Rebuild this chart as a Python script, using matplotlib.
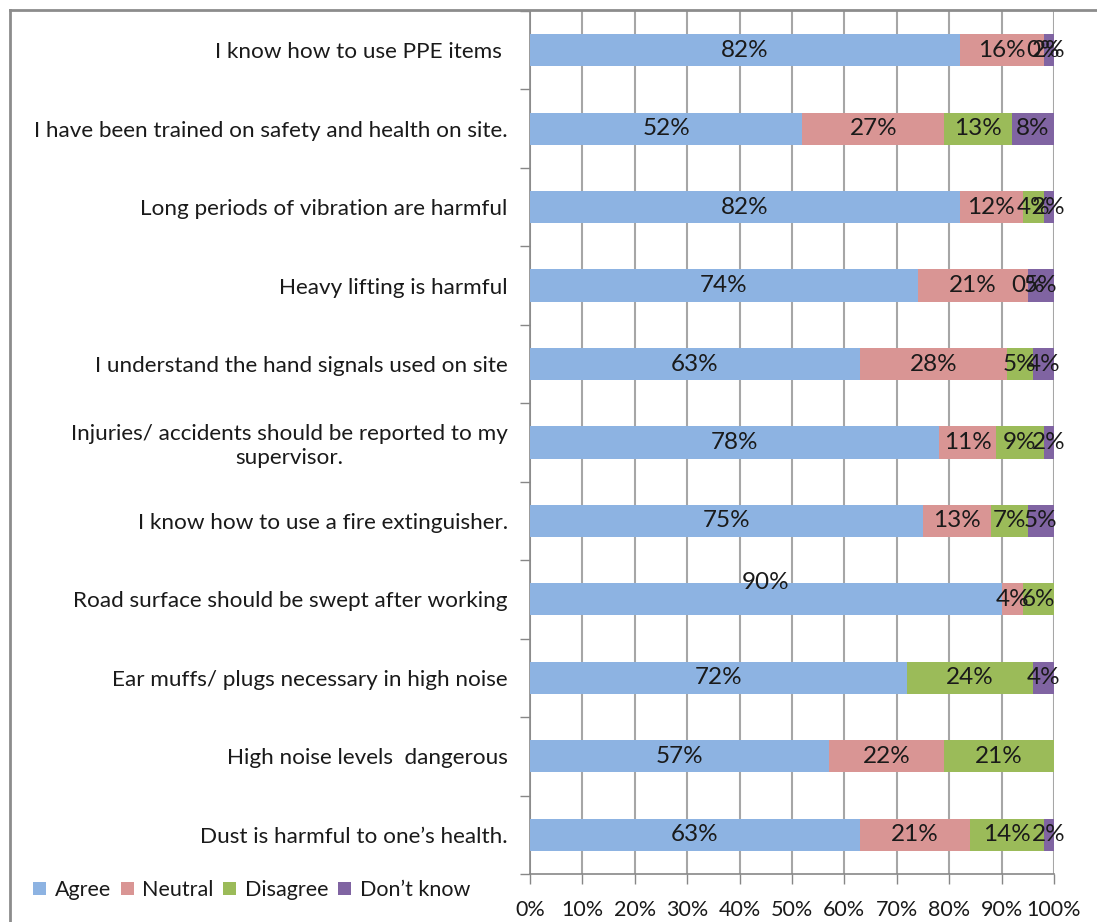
import matplotlib
matplotlib.use("Agg")
import matplotlib.pyplot as plt
import numpy as np
from matplotlib.lines import Line2D
from matplotlib.patches import Patch

plt.rcParams['font.family'] = ['Lato', 'DejaVu Sans']

statements = [
    "I know how to use PPE items ",
    "I have been trained on safety and health on site.",
    "Long periods of vibration are harmful",
    "Heavy lifting is harmful",
    "I understand the hand signals used on site",
    "Injuries/ accidents should be reported to my\nsupervisor.",
    "I know how to use a fire extinguisher.",
    "Road surface should be swept after working",
    "Ear muffs/ plugs necessary in high noise",
    "High noise levels  dangerous",
    "Dust is harmful to one\u2019s health.",
]
# nan = no response in that group (no segment, no label)
agree = [82, 52, 82, 74, 63, 78, 75, 90, 72, 57, 63]
neutral = [16, 27, 12, 21, 28, 11, 13, 4, np.nan, 22, 21]
disagree = [0, 13, 4, 0, 5, 9, 7, 6, 24, 21, 14]
dont_know = [2, 8, 2, 5, 4, 2, 5, np.nan, 4, np.nan, 2]

series = [
    ("Agree", agree, "#8DB3E2"),
    ("Neutral", neutral, "#D99594"),
    ("Disagree", disagree, "#9BBB59"),
    ("Don\u2019t know", dont_know, "#8064A2"),
]

fig = plt.figure(figsize=(10.97, 9.22), dpi=100)
ax = fig.add_axes([0.4831, 0.0521, 0.9608 - 0.4831, 0.9881 - 0.0521])

y = np.arange(len(statements))
left = np.zeros(len(statements))
for name, vals, col in series:
    v = np.array(vals, dtype=float)
    w = np.nan_to_num(v)
    ax.barh(y, w, left=left, height=0.41, color=col, zorder=3, label=name)
    for i in range(len(v)):
        if np.isnan(v[i]):
            continue
        dy = 0
        if name == "Agree" and i == 7:
            dy = -0.22  # label nudged above the bar
        ax.text(left[i] + w[i] / 2, y[i] + dy, f"{v[i]:.0f}%", ha='center', va='center',
                fontsize=17.5, color='#1a1a1a', zorder=5)
    left += w

ax.set_xlim(0, 100)
ax.set_ylim(len(statements) - 0.5, -0.5)

ax.set_xticks(np.arange(0, 101, 10))
ax.set_xticklabels([f"{t}%" for t in range(0, 101, 10)], fontsize=15.5, color='#1a1a1a')
ax.tick_params(axis='x', direction='out', length=7, width=1, color='#878787', pad=12)

ax.set_yticks(y)
ax.set_yticklabels(statements, fontsize=16.2, color='#1a1a1a', multialignment='center')
ax.tick_params(axis='y', which='major', length=0, pad=16)
ax.set_yticks(np.arange(-0.5, len(statements)), minor=True)
ax.tick_params(axis='y', which='minor', direction='out', length=7, width=1, color='#878787')

ax.grid(axis='x', color='#A6A6A6', linewidth=1.5, zorder=0)
ax.set_axisbelow(True)
for s in ('top', 'right'):
    ax.spines[s].set_visible(False)
for s in ('left', 'bottom'):
    ax.spines[s].set_color('#878787')
    ax.spines[s].set_linewidth(1.2)

# chart border (left and top edges)
fig.add_artist(Line2D([10 / 1097, 10 / 1097], [0, 1 - 10 / 922], transform=fig.transFigure,
                      color='#8C8C8C', linewidth=2))
fig.add_artist(Line2D([10 / 1097, 1], [1 - 10 / 922, 1 - 10 / 922], transform=fig.transFigure,
                      color='#8C8C8C', linewidth=2))

handles = [Patch(facecolor=c, edgecolor='none') for _, _, c in series]
fig.legend(handles, [n for n, _, _ in series], loc='center left',
           bbox_to_anchor=(14 / 1097, 1 - 890 / 922), ncol=4, frameon=False,
           fontsize=15.5, handlelength=0.6, handleheight=0.6, handletextpad=0.4,
           columnspacing=0.45, labelcolor='#1a1a1a')

fig.savefig("out.png", dpi=100)
